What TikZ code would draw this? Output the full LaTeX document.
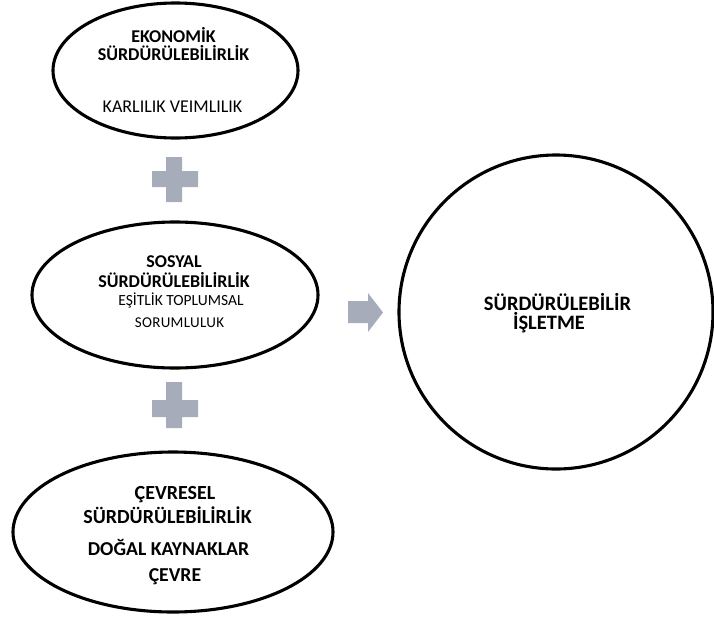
\documentclass[tikz,border=0pt]{standalone}
\usepackage{fontspec}
\setmainfont{Carlito}
\usetikzlibrary{shapes.geometric}
\definecolor{signgray}{HTML}{A6ACBA}
% font size (pt) for a label
\newcommand{\lblsize}[1]{\fontsize{#1}{#1}\selectfont}
\tikzset{
  x=1pt, y=-1pt,
  pillar/.style={draw=black, line width=3.1pt, fill=white},
  lbl/.style={align=center, inner sep=0pt},
  title/.style={lbl, font=\bfseries\lblsize{18}},
  body/.style={lbl, font=\lblsize{18}},
  joiner/.style={fill=signgray, draw=none},
}
\begin{document}
\begin{tikzpicture}
\useasboundingbox (0,0) rectangle (714,627);

% three pillars
\node[pillar, ellipse, minimum width=245pt, minimum height=135pt, inner sep=0pt] (eko) at (175.5,70.5) {};
\node[pillar, ellipse, minimum width=286pt, minimum height=146pt, inner sep=0pt] (sos) at (175,295) {};
\node[pillar, ellipse, minimum width=320pt, minimum height=160pt, inner sep=0pt] (cev) at (173,532) {};

% result
\node[pillar, circle, minimum size=314pt, inner sep=0pt] (isl) at (556,312) {};

% economic
\node[title] (eko1) at (173.5,35) {EKONOMİK};
\node[title] (eko2) at (173.5,53) {SÜRDÜRÜLEBİLİRLİK};
\node[body]  (eko3) at (172.5,107) {KARLILIK VEIMLILIK};

% social
\node[title] (sos1) at (174,262) {SOSYAL};
\node[title] (sos2) at (174,280) {SÜRDÜRÜLEBİLİRLİK};
\node[lbl, font=\lblsize{15.5}] (sos3) at (181,300) {EŞİTLİK TOPLUMSAL};
\node[lbl, font=\lblsize{15}\addfontfeatures{LetterSpace=2}] (sos4) at (179.5,323) {SORUMLULUK};

% environmental
\node[lbl, font=\bfseries\lblsize{20}] (cev1) at (175,495) {ÇEVRESEL};
\node[lbl, font=\bfseries\lblsize{20}] (cev2) at (167.5,515) {SÜRDÜRÜLEBİLİRLİK};
\node[lbl, font=\bfseries\lblsize{19.7}] (cev3) at (168.5,547) {DOĞAL KAYNAKLAR};
\node[lbl, font=\bfseries\lblsize{19.7}] (cev4) at (175,577) {ÇEVRE};

% sustainable business
\node[lbl, font=\bfseries\lblsize{20.5}] (isl1) at (557.5,302) {SÜRDÜRÜLEBİLİR};
\node[lbl, font=\bfseries\lblsize{20.5}] (isl2) at (549,323) {İŞLETME};

% plus signs between the pillars
\fill[joiner] (166,157) rectangle (182,202) (152,171) rectangle (198,187);
\fill[joiner] (166,382) rectangle (182,428) (152,400) rectangle (198,417);

% arrow towards the result
\fill[joiner] (348,301) -- (368,301) -- (368,293) -- (383,312.5) -- (368,332) -- (368,323) -- (348,323) -- cycle;
\end{tikzpicture}
\end{document}
